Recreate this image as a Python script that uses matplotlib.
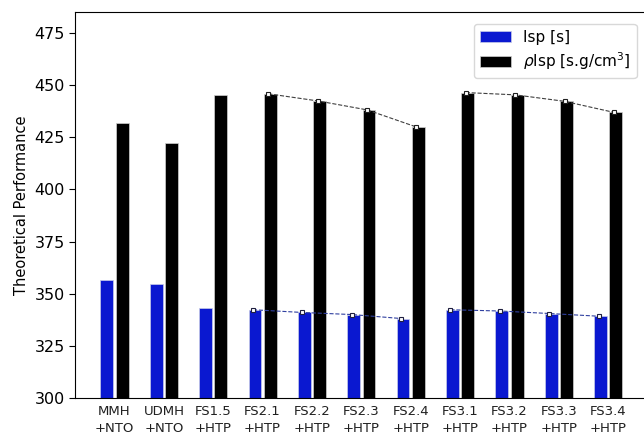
import numpy as np
import matplotlib
matplotlib.use("Agg")
from matplotlib import pyplot as plt

# propellant combinations
labels = ["MMH\n+NTO", "UDMH\n+NTO", "FS1.5\n+HTP", "FS2.1\n+HTP", "FS2.2\n+HTP",
          "FS2.3\n+HTP", "FS2.4\n+HTP", "FS3.1\n+HTP", "FS3.2\n+HTP", "FS3.3\n+HTP",
          "FS3.4\n+HTP"]
isp = [356.7, 354.7, 343.1, 342.3, 341.0, 340.0, 338.1, 342.3, 341.7, 340.5, 339.2]
rho_isp = [431.7, 422.1, 445.4, 445.8, 442.4, 438.1, 429.9, 446.4, 445.3, 442.2, 436.9]

# the FS2.x and FS3.x series are joined with dashed lines
groups = [[3, 4, 5, 6], [7, 8, 9, 10]]

x = np.arange(len(labels))
w = 0.26
off = 0.155

fig = plt.figure(figsize=(6.44, 4.32), dpi=100)
ax = fig.add_axes([0.1165, 0.0787, 0.89, 0.8935])

ax.bar(x - off, isp, w, color="#0a18d0", edgecolor="#c8cce8", linewidth=0.5, label="Isp [s]")
ax.bar(x + off, rho_isp, w, color="black", edgecolor="#d0d0d0", linewidth=0.5,
       label=r"$\rho$Isp [s.g/cm$^3$]")

for g in groups:
    xs = x[g]
    ax.plot(xs - off - 0.04, [isp[i] for i in g], linestyle="--", color="#3040a0",
            linewidth=0.8, marker="s", markersize=3.5, markerfacecolor="white",
            markeredgecolor="#202040", markeredgewidth=0.8, zorder=3)
    ax.plot(xs + off - 0.04, [rho_isp[i] for i in g], linestyle="--", color="#404040",
            linewidth=0.8, marker="s", markersize=3.5, markerfacecolor="white",
            markeredgecolor="#202020", markeredgewidth=0.8, zorder=3)

ax.set_xlim(-0.8, 10.81)
ax.set_ylim(300, 485)
ax.set_yticks([300, 325, 350, 375, 400, 425, 450, 475])
ax.set_xticks(x)
ax.set_xticklabels(labels, fontsize=9.5, color="#202020", linespacing=1.45)
ax.tick_params(axis="x", length=0, pad=5)
ax.tick_params(axis="y", labelsize=11.5, length=4)
ax.set_ylabel("Theoretical Performance", fontsize=10.5, labelpad=4)

ax.legend(loc="upper right", fontsize=11, handlelength=2.0, bbox_to_anchor=(0.993, 0.99),
          framealpha=1, edgecolor="#d8d8d8", borderpad=0.4, labelspacing=0.35)

fig.savefig("out.png", dpi=100)
